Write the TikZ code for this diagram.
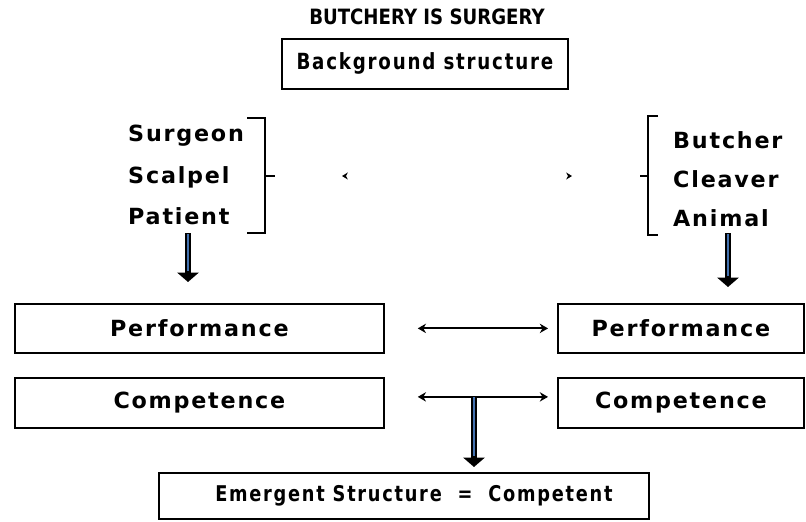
\documentclass[tikz,border=0pt]{standalone}
\usepackage{fontspec}
\setmainfont{DejaVu Sans}
\newfontfamily\labelfont[LetterSpace=8]{DejaVu Sans}
\newfontfamily\narrowfont[LetterSpace=8,FakeStretch=0.82]{DejaVu Sans}
\newfontfamily\headfont[FakeStretch=0.86]{DejaVu Sans}
\usetikzlibrary{arrows.meta}
\definecolor{shaftblue}{RGB}{68,114,176}

\begin{document}
\begin{tikzpicture}[x=0.03cm,y=-0.03cm]
\tikzset{
  termbox/.style={draw=black,line width=1.5pt,anchor=north west,inner sep=0pt,font=\labelfont\bfseries\fontsize{19}{22}\selectfont},
  widebox/.style={termbox,font=\narrowfont\bfseries\fontsize{19}{22}\selectfont},
  termtext/.style={anchor=west,inner sep=0pt,font=\labelfont\bfseries\fontsize{19}{22}\selectfont},
  bracket/.style={draw=black,line width=1.6pt},
  linkarrow/.style={draw=black,line width=1.8pt,{Stealth[length=7pt,width=8pt]}-{Stealth[length=7pt,width=8pt]}},
  hintarrow/.style={draw=white,line width=1pt,{Stealth[color=black,length=5pt,width=6pt]}-{Stealth[color=black,length=5pt,width=6pt]}},
  blockshaft/.style={draw=black,line width=4.5pt,-{Triangle[length=8pt,width=18pt]}},
  blockcore/.style={draw=shaftblue,line width=1.2pt,shorten <=1pt}
}
\useasboundingbox (0,0) rectangle (806,521);
% heading and background frame
\node[font=\headfont\bfseries\fontsize{18}{20}\selectfont] (title) at (427,17) {BUTCHERY IS SURGERY};
\node[widebox,minimum width=8.58cm,minimum height=1.5cm] (bgbox) at (281,38) {Background structure};
% the two input spaces
\node[termtext] (surgeon) at (128,136) {Surgeon};
\node[termtext] (scalpel) at (128,177) {Scalpel};
\node[termtext] (patient) at (128,216) {Patient};
\node[termtext] (butcher) at (673,140) {Butcher};
\node[termtext] (cleaver) at (673,179) {Cleaver};
\node[termtext] (animal) at (673,218) {Animal};
\draw[bracket] (247,118) -- (265,118) -- (265,233) -- (247,233);
\draw[bracket] (265,176) -- (275,176);
\draw[bracket] (658,116) -- (648,116) -- (648,235) -- (658,235);
\draw[bracket] (648,176) -- (640,176);
\coordinate (lmid) at (275,176);
\coordinate (rmid) at (640,176);
\draw[hintarrow,shorten <=2.01cm,shorten >=2.04cm] (lmid) -- (rmid);
% performance / competence rows
\node[termbox,minimum width=11.07cm,minimum height=1.47cm] (lperf) at (14,303) {Performance};
\node[termbox,minimum width=7.38cm,minimum height=1.47cm] (rperf) at (557,303) {Performance};
\node[termbox,minimum width=11.07cm,minimum height=1.5cm] (lcomp) at (14,377) {Competence};
\node[termbox,minimum width=7.38cm,minimum height=1.5cm] (rcomp) at (557,377) {Competence};
\node[widebox,minimum width=14.7cm,minimum height=1.38cm,font=\narrowfont\bfseries\fontsize{18.5}{22}\selectfont] (emer) at (158,472) {\hspace{0.6cm}Emergent Structure\ \ =\ \ Competent};
\draw[linkarrow,shorten <=0.99cm,shorten >=0.27cm] (lperf) -- (rperf);
\draw[linkarrow,shorten <=0.99cm,shorten >=0.27cm] ([yshift=0.18cm]lcomp.east) -- ([yshift=0.18cm]rcomp.west);
% block arrows
\coordinate (lfoot) at (188,233);
\coordinate (rfoot) at (728,233);
\coordinate (join) at (474,396);
\draw[blockshaft,shorten >=0.63cm] (lfoot) -- (lfoot |- lperf.north);
\draw[blockcore,shorten >=0.95cm] (lfoot) -- (lfoot |- lperf.north);
\draw[blockshaft,shorten >=0.48cm] (rfoot) -- (rfoot |- rperf.north);
\draw[blockcore,shorten >=0.8cm] (rfoot) -- (rfoot |- rperf.north);
\draw[blockshaft,shorten >=0.15cm] (join) -- (join |- emer.north);
\draw[blockcore,shorten >=0.47cm] (join) -- (join |- emer.north);
\end{tikzpicture}
\end{document}
